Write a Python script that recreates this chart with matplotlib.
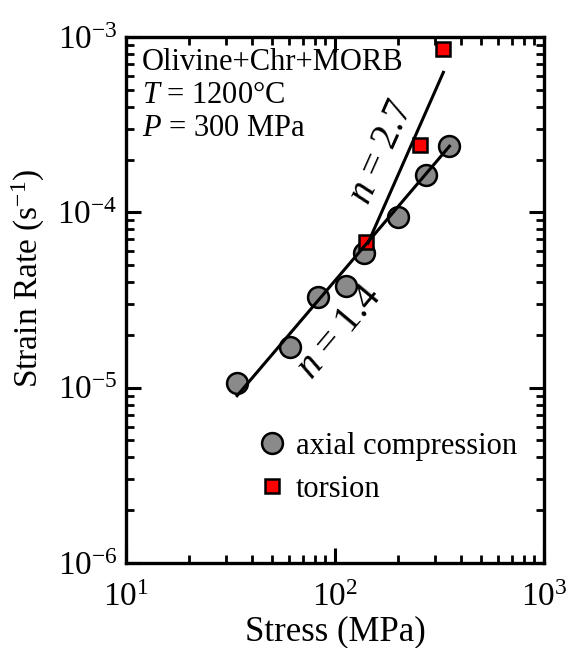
import numpy as np
import matplotlib
matplotlib.use("Agg")
import matplotlib.pyplot as plt
from matplotlib.ticker import LogLocator, NullFormatter

plt.rcParams['font.family'] = ['Liberation Serif', 'DejaVu Serif']
plt.rcParams['mathtext.fontset'] = 'custom'
plt.rcParams['mathtext.rm'] = 'Liberation Serif'
plt.rcParams['mathtext.it'] = 'Liberation Serif:italic'
plt.rcParams['mathtext.bf'] = 'Liberation Serif:bold'

# --- data ---
axial_stress = [34, 61, 83, 113, 137, 200, 274, 353]
axial_rate = [1.07e-5, 1.71e-5, 3.27e-5, 3.78e-5, 5.83e-5, 9.4e-5, 1.63e-4, 2.38e-4]

torsion_stress = [141, 254, 327]
torsion_rate = [6.8e-5, 2.41e-4, 8.5e-4]

# power-law fits: rate = a * stress^n
fit_n = [1.4, 2.7]
fit_ref_stress = [34, 143.6]
fit_ref_rate = [9.0e-6, 6.65e-5]
fit_range = [(34, 353), (143.6, 330)]

fig = plt.figure(figsize=(5.71, 6.48), dpi=100)
ax = fig.add_axes([0.2207, 0.1312, 0.7320, 0.8117])
ax.set_xscale('log')
ax.set_yscale('log')
ax.set_xlim(10, 1000)
ax.set_ylim(1e-6, 1e-3)

ax.plot(axial_stress, axial_rate, 'o', ms=15, mfc='#8a8a8a', mec='black',
        mew=1.8, zorder=3, label='axial compression')
ax.plot(torsion_stress, torsion_rate, 's', ms=10.5, mfc='#ff0000', mec='black',
        mew=1.8, zorder=3, label='torsion')

for n, s0, r0, (s1, s2) in zip(fit_n, fit_ref_stress, fit_ref_rate, fit_range):
    s = np.array([s1, s2])
    ax.plot(s, r0 * (s / s0) ** n, color='black', lw=2.2, zorder=4)

ax.text(0.038, 0.951, 'Olivine+Chr+MORB', transform=ax.transAxes,
        fontsize=22, va='center', ha='left')
ax.text(0.038, 0.889, '$T$ = 1200°C', transform=ax.transAxes,
        fontsize=22, va='center', ha='left')
ax.text(0.038, 0.826, '$P$ = 300 MPa', transform=ax.transAxes,
        fontsize=22, va='center', ha='left')

ax.text(0.612, 0.781, '$n$ = 2.7', transform=ax.transAxes, fontsize=28,
        rotation=66, ha='center', va='center')
ax.text(0.512, 0.439, '$n$ = 1.4', transform=ax.transAxes, fontsize=28,
        rotation=50, ha='center', va='center')

leg = ax.legend(loc='upper left', bbox_to_anchor=(0.29, 0.272), frameon=False,
                fontsize=22, handlelength=0.8, handletextpad=0.4,
                labelspacing=0.45, borderaxespad=0, numpoints=1)

for sp in ax.spines.values():
    sp.set_linewidth(2.4)

ax.xaxis.set_minor_locator(LogLocator(base=10, subs=np.arange(2, 10)))
ax.yaxis.set_minor_locator(LogLocator(base=10, subs=np.arange(2, 10)))
ax.xaxis.set_minor_formatter(NullFormatter())
ax.yaxis.set_minor_formatter(NullFormatter())
ax.tick_params(which='both', direction='in', top=True, right=True)
ax.tick_params(which='major', length=11, width=2.2, labelsize=24)
ax.tick_params(axis='x', which='major', pad=14)
ax.tick_params(axis='y', which='major', pad=6)
ax.tick_params(which='minor', length=5.5, width=2.0)

ax.set_xlabel('Stress (MPa)', fontsize=25, labelpad=2)
ax.set_ylabel('Strain Rate (s$^{\\mathrm{-1}}$)', fontsize=24)
ax.yaxis.set_label_coords(-0.19, 0.542)

fig.savefig('out.png', dpi=100)
